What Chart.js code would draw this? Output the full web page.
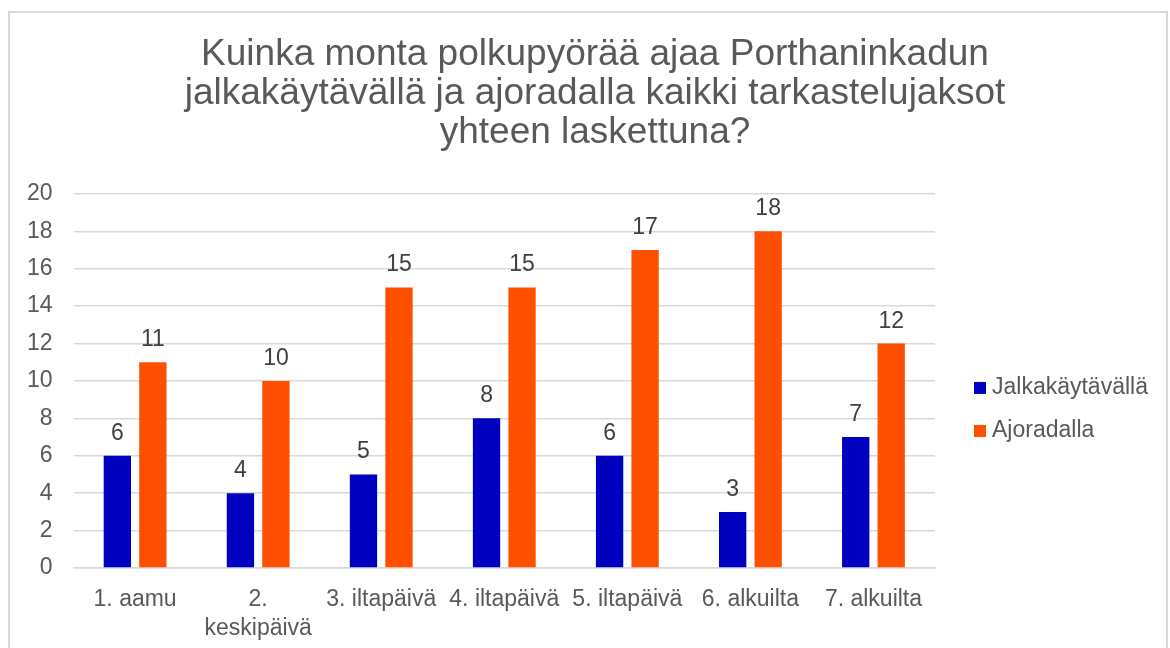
<!DOCTYPE html>
<html>
<head>
<meta charset="utf-8">
<script src="https://cdn.jsdelivr.net/npm/chart.js@4.4.1/dist/chart.umd.min.js"></script>
<style>
  html, body { margin: 0; padding: 0; background: #fff; overflow: hidden; }
  #wrap { position: relative; width: 1170px; height: 648px; }
  #frame { position: absolute; left: 8px; top: 11px; width: 1156px; height: 700px; border: 2px solid #d9d9d9; }
  #barChart { position: absolute; left: 0; top: 0; }
</style>
</head>
<body>
<div id="wrap">
  <div id="frame"></div>
  <canvas id="barChart" width="1170" height="648"></canvas>
</div>
<script>
// data
var categories = ["1. aamu", ["2.", "keskipäivä"], "3. iltapäivä", "4. iltapäivä", "5. iltapäivä", "6. alkuilta", "7. alkuilta"];
var jalkakaytavalla = [6, 4, 5, 8, 6, 3, 7];
var ajoradalla = [11, 10, 15, 15, 17, 18, 12];
var yTicks = [0, 2, 4, 6, 8, 10, 12, 14, 16, 18, 20];

var titleLines = [
  "Kuinka monta polkupyörää ajaa Porthaninkadun",
  "jalkakäytävällä ja ajoradalla kaikki tarkastelujaksot",
  "yhteen laskettuna?"
];

var FONT = "'Liberation Sans', Arial, sans-serif";

// value labels above the bars
var barLabels = {
  id: 'barLabels',
  afterDatasetsDraw: function (chart) {
    var ctx = chart.ctx;
    ctx.save();
    ctx.font = "23px " + FONT;
    ctx.fillStyle = "#404040";
    ctx.textAlign = "center";
    ctx.textBaseline = "alphabetic";
    chart.data.datasets.forEach(function (ds, i) {
      chart.getDatasetMeta(i).data.forEach(function (bar, j) {
        ctx.fillText(String(ds.data[j]), bar.x, bar.y - 16);
      });
    });
    ctx.restore();
  }
};

// legend to the right of the plot, like the Excel one
var sideLegend = {
  id: 'sideLegend',
  afterDraw: function (chart) {
    var ctx = chart.ctx, a = chart.chartArea;
    var x = a.right + 39;
    var y = (a.top + a.bottom) / 2 + 7;
    ctx.save();
    ctx.font = "23px " + FONT;
    ctx.textAlign = "left";
    ctx.textBaseline = "middle";
    chart.data.datasets.forEach(function (ds, i) {
      var yy = y + i * 43;
      ctx.fillStyle = ds.backgroundColor;
      ctx.fillRect(x, yy - 6, 12, 12);
      ctx.fillStyle = "#595959";
      ctx.fillText(ds.label, x + 18, yy);
    });
    ctx.restore();
  }
};

var ctxB = document.getElementById("barChart").getContext('2d');
var myBarChart = new Chart(ctxB, {
  type: 'bar',
  data: {
    labels: categories,
    datasets: [{
        label: "Jalkakäytävällä",
        data: jalkakaytavalla,
        backgroundColor: '#0000c0',
        categoryPercentage: 0.577,
        barPercentage: 0.77
      },
      {
        label: "Ajoradalla",
        data: ajoradalla,
        backgroundColor: '#ff5000',
        categoryPercentage: 0.577,
        barPercentage: 0.77
      }
    ]
  },
  options: {
    responsive: false,
    animation: false,
    layout: { padding: { left: 6, right: -14, top: 0, bottom: 5 } },
    plugins: {
      title: {
        display: true,
        text: titleLines,
        color: '#595959',
        font: { family: FONT, size: 37, weight: 'normal', lineHeight: 1.062 },
        padding: { top: 35, bottom: 41 }
      },
      legend: { display: false },
      tooltip: { enabled: false }
    },
    scales: {
      x: {
        grid: { display: false, drawTicks: false },
        border: { color: '#d9d9d9', width: 1.5 },
        afterFit: function (scale) { scale.height = 75; },
        ticks: {
          color: '#595959',
          font: { family: FONT, size: 23, lineHeight: 1.26 },
          padding: 17,
          maxRotation: 0,
          autoSkip: false
        }
      },
      y: {
        min: 0,
        max: 20,
        afterBuildTicks: function (scale) {
          scale.ticks = yTicks.map(function (v) { return { value: v }; });
        },
        grid: { color: '#d9d9d9', lineWidth: 1.5, drawTicks: false },
        border: { display: false },
        ticks: {
          color: '#595959',
          font: { family: FONT, size: 23 },
          padding: 21
        }
      },
      // empty space on the right that holds the legend
      legendSpace: {
        type: 'linear',
        position: 'right',
        grid: { display: false, drawTicks: false },
        border: { display: false },
        ticks: { display: false },
        afterFit: function (scale) { scale.width = 249; }
      }
    }
  },
  plugins: [barLabels, sideLegend]
});
</script>
</body>
</html>
